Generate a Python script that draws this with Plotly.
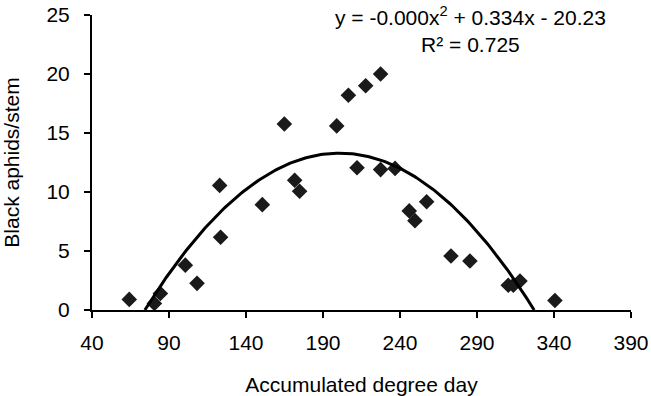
import numpy as np
import plotly.graph_objects as go

degree_days = [64.2, 80.5, 84.4, 100.6, 108.2, 122.9, 123.5, 150.6, 164.9, 171.6,
               174.8, 198.9, 206.5, 212.1, 217.7, 227.4, 227.4, 236.8, 246.0, 249.7,
               257.3, 273.1, 285.4, 310.3, 313.6, 317.9, 340.6]
aphids = [0.9, 0.56, 1.4, 3.8, 2.26, 10.56, 6.16, 8.93, 15.76, 11.0,
          10.06, 15.6, 18.2, 12.06, 19.0, 20.0, 11.9, 12.0, 8.4, 7.57,
          9.18, 4.58, 4.15, 2.1, 2.1, 2.46, 0.8]

# Polynomial trendline coefficients (y = a x^2 + b x + c)
coef_a = -0.000832
coef_b = 0.334
coef_c = -20.23

x_ticks = [40, 90, 140, 190, 240, 290, 340, 390]
y_ticks = [0, 5, 10, 15, 20, 25]

disc = np.sqrt(coef_b**2 - 4 * coef_a * coef_c)
roots = sorted([(-coef_b + disc) / (2 * coef_a), (-coef_b - disc) / (2 * coef_a)])
xs = np.linspace(roots[0], roots[1], 200)
ys = np.clip(coef_a * xs**2 + coef_b * xs + coef_c, 0, None)

FONT = "Liberation Sans, Arial, sans-serif"
L, R, T, B, W, H = 92, 20, 15, 86, 651, 396

fig = go.Figure()
fig.add_trace(go.Scatter(x=degree_days, y=aphids, mode="markers",
                         marker=dict(symbol="diamond", size=12, color="#1a1a1a"),
                         showlegend=False, cliponaxis=False))
fig.add_trace(go.Scatter(x=xs, y=ys, mode="lines",
                         line=dict(color="black", width=3),
                         showlegend=False, cliponaxis=False))

fig.add_annotation(x=(470 - L) / (W - L - R), y=(H - B - 30) / (H - B - T),
                   xref="paper", yref="paper", xanchor="center", yanchor="middle",
                   text="y = -0.000x<sup>2</sup> + 0.334x - 20.23<br>R² = 0.725",
                   showarrow=False, font=dict(family=FONT, size=21, color="black"),
                   align="center")

fig.update_layout(
    width=W, height=H,
    margin=dict(l=L, r=R, t=T, b=B, autoexpand=False),
    plot_bgcolor="white", paper_bgcolor="white",
    font=dict(family=FONT, size=21, color="black"),
    xaxis=dict(range=[40, 390], tickvals=x_ticks, ticktext=[str(v) for v in x_ticks],
               showgrid=False, zeroline=False, showline=True, linecolor="black",
               linewidth=2, ticks="outside", ticklen=6, tickwidth=2, tickcolor="black",
               tickfont=dict(size=21), ticklabelstandoff=7, automargin=False,
               title=dict(text="Accumulated degree day", font=dict(size=21), standoff=28)),
    yaxis=dict(range=[0, 25], tickvals=y_ticks, ticktext=[str(v) for v in y_ticks],
               showgrid=False, zeroline=False, showline=True, linecolor="black",
               linewidth=2, ticks="outside", ticklen=6, tickwidth=2, tickcolor="black",
               tickfont=dict(size=21), ticklabelstandoff=10, automargin=False,
               title=dict(text="Black aphids/stem", font=dict(size=21), standoff=24)),
)

fig.write_html("out.html", config={"displayModeBar": False},
               post_script="document.body.style.margin='0';")
